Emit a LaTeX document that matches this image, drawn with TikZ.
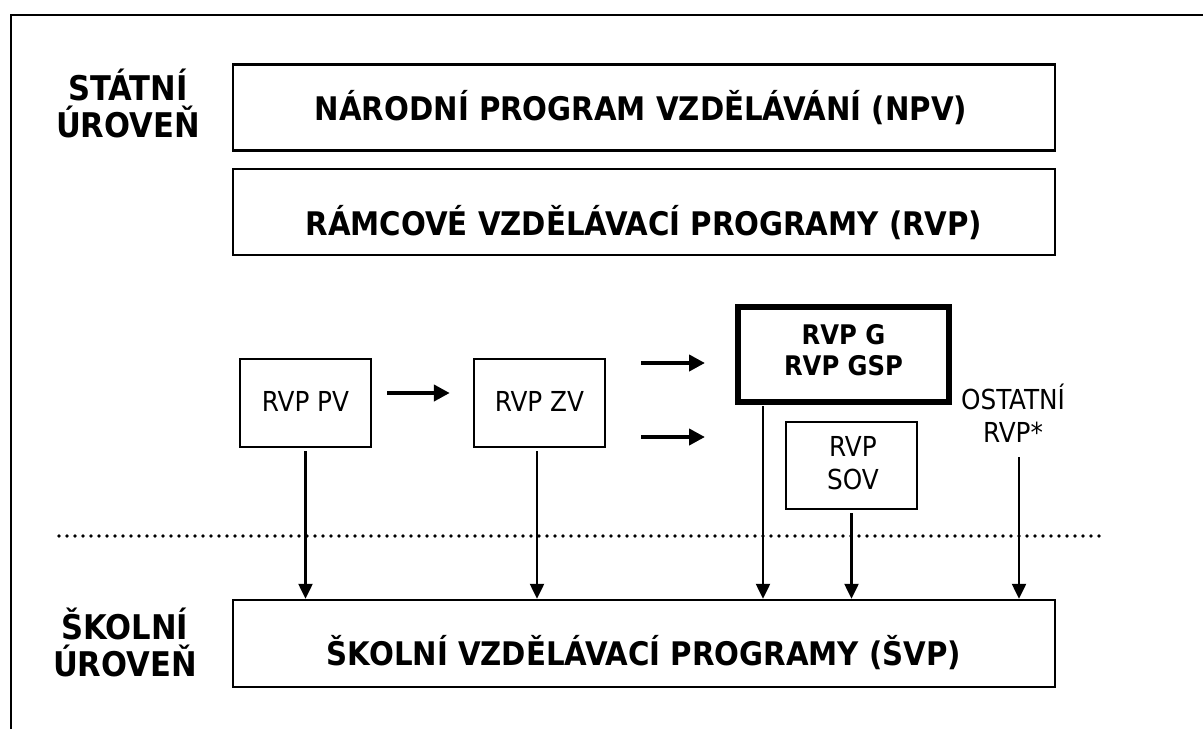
\documentclass[tikz,border=0pt]{standalone}
\usepackage{fontspec}
\setmainfont{DejaVu Sans Condensed}
\usetikzlibrary{arrows.meta,calc}
\begin{document}
\begin{tikzpicture}[x=1pt,y=-1pt,
  widebox/.style={draw, line width=2.4pt, minimum width=822pt, minimum height=86pt, inner sep=0pt},
  smallbox/.style={draw, line width=2.4pt, minimum width=131pt, minimum height=88pt, inner sep=0pt},
  gbox/.style={draw, line width=6pt, minimum width=211pt, minimum height=95pt, inner sep=0pt},
  titletext/.style={font=\bfseries\fontsize{32.5}{36}\selectfont, inner sep=0pt},
  leveltext/.style={font=\bfseries\fontsize{34}{37}\selectfont, align=center, inner sep=0pt},
  normaltext/.style={font=\fontsize{27.5}{33}\selectfont, align=center, inner sep=0pt},
  boldtext/.style={font=\bfseries\fontsize{27}{31}\selectfont, align=center, inner sep=0pt},
  downarrow/.style={line width=2.3pt, -{Triangle[length=15pt,width=14pt]}},
  thickarrow/.style={line width=4.5pt, -{Triangle[length=16pt,width=16pt]}},
  dotline/.style={line width=3.6pt, dash pattern=on 0pt off 8pt, line cap=round}
]
\useasboundingbox (0,0) rectangle (1203,729);
\fill[white] (0,0) rectangle (1203,729);
% frame
\coordinate (fbl) at (11,729);
\coordinate (ftl) at (11,15);
\coordinate (ftr) at (1203,15);
\draw[line width=2.4pt] (fbl) -- (ftl) -- (ftr);

% level labels
\node[leveltext] (statni) at (128,103) {STÁTNÍ\\ÚROVEŇ};
\node[leveltext] (skolni) at (125,642) {ŠKOLNÍ\\ÚROVEŇ};

% top boxes
\node[widebox] (npv) at (644,107.5) {};
\node[titletext] (npvt) at (641,108) {NÁRODNÍ PROGRAM VZDĚLÁVÁNÍ (NPV)};
\node[widebox] (rvp) at (644,212) {};
\node[titletext] (rvpt) at (644,223) {RÁMCOVÉ VZDĚLÁVACÍ PROGRAMY (RVP)};

% middle boxes
\node[smallbox] (pv) at (305.5,403) {};
\node[normaltext] (pvt) at (305.5,401) {RVP PV};
\node[smallbox] (zv) at (539.5,403) {};
\node[normaltext] (zvt) at (539.5,401) {RVP ZV};
\node[gbox] (g) at (843.5,354.5) {};
\node[boldtext] (gt) at (843.5,350) {RVP G\\RVP GSP};
\node[smallbox, minimum height=87pt] (sov) at (851.5,465.5) {};
\node[normaltext] (sovt) at (853,463) {RVP\\SOV};
\node[normaltext] (ost) at (1013,413) {OSTATNÍ\\RVP*};

% bottom box
\node[widebox, minimum height=87pt] (svp) at (644,643.5) {};
\node[titletext] (svpt) at (644,652.5) {ŠKOLNÍ VZDĚLÁVACÍ PROGRAMY (ŠVP)};

% dotted separator
\coordinate (dl) at (59,536);
\coordinate (dr) at (1103,536);
\draw[dotline] (dl) -- (dr);

% horizontal arrows
\draw[thickarrow] ([xshift=15pt,yshift=10pt]pv.east) -- ([xshift=-23pt,yshift=10pt]zv.west);
\coordinate (a1s) at (641,363);
\coordinate (a1e) at (705,363);
\coordinate (a2s) at (641,437);
\coordinate (a2e) at (705,437);
\draw[thickarrow] (a1s) -- (a1e);
\draw[thickarrow] (a2s) -- (a2e);

% down arrows
\draw[downarrow] ([yshift=-3pt]pv.south) -- (pv.south |- svp.north);
\draw[downarrow] ([xshift=-2.5pt,yshift=-3pt]zv.south) -- ([xshift=-2.5pt]zv.south |- svp.north);
\draw[downarrow] ([xshift=28pt,yshift=-1pt]g.south west) -- ([xshift=28pt]g.south west |- svp.north);
\draw[downarrow] ([yshift=-3pt]sov.south) -- (sov.south |- svp.north);
\coordinate (ostfrom) at (1019,457);
\draw[downarrow] (ostfrom) -- (ostfrom |- svp.north);
\end{tikzpicture}
\end{document}
